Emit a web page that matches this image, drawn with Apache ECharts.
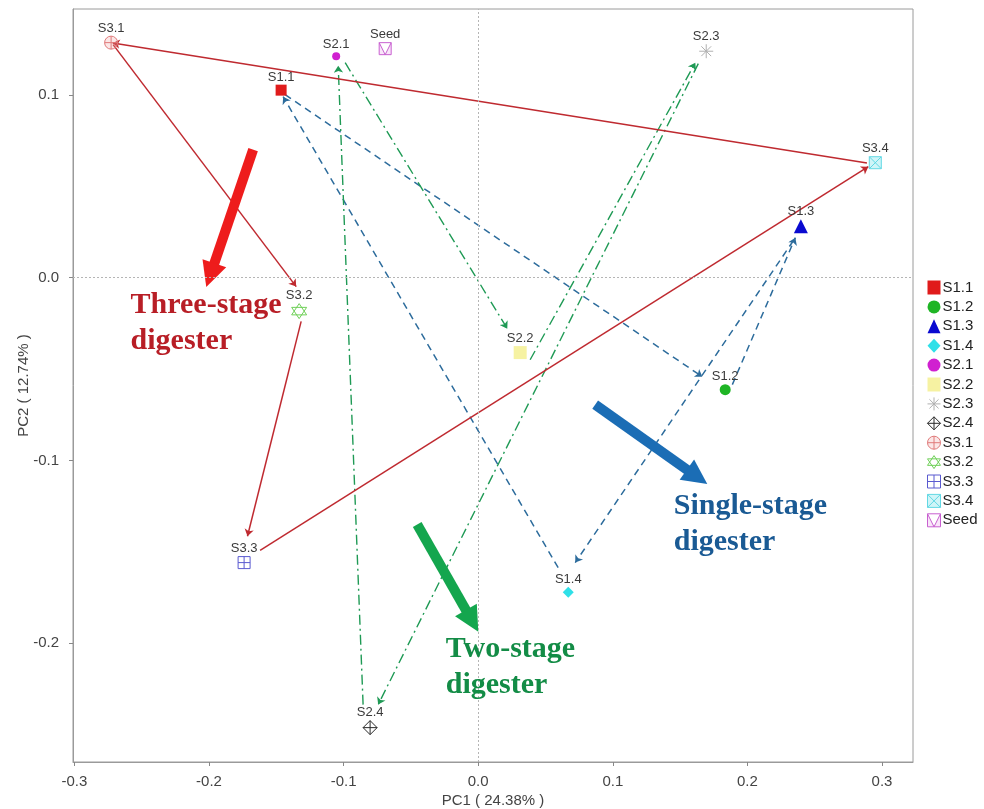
<!DOCTYPE html>
<html><head><meta charset="utf-8">
<script src="https://cdn.jsdelivr.net/npm/echarts@6/dist/echarts.min.js"></script>
<style>html,body{margin:0;padding:0;background:#fff}#c{width:984px;height:809px}</style>
</head><body><div id="c"></div>
<script>
// ---- data ----
const sampleNames = ['S1.1','S1.2','S1.3','S1.4','S2.1','S2.2','S2.3','S2.4','S3.1','S3.2','S3.3','S3.4','Seed'];
const pc1 = [-0.1464, 0.1835, 0.2397, 0.0669, -0.1055, 0.0312, 0.1694, -0.0803, -0.2727, -0.1330, -0.1739, 0.2950, -0.0691];
const pc2 = [0.1026, -0.0613, 0.0282, -0.1721, 0.1212, -0.0410, 0.1239, -0.2462, 0.1286, -0.0183, -0.1559, 0.0629, 0.1253];
const xTicks = [-0.3, -0.2, -0.1, 0.0, 0.1, 0.2, 0.3];
const yTicks = [-0.2, -0.1, 0.0, 0.1];
const xTitle = 'PC1 ( 24.38% )';
const yTitle = 'PC2 ( 12.74% )';
// trajectory arrows [x1, y1, x2, y2]
const singleStageArrows = [
  [-0.1434, 0.1001, 0.1665, -0.0542],
  [0.1888, -0.0585, 0.2356, 0.0219],
  [0.2341, 0.0202, 0.0721, -0.1559],
  [0.0594, -0.1587, -0.1449, 0.0990]
];
const twoStageArrows = [
  [-0.0988, 0.1176, 0.0216, -0.0279],
  [0.0386, -0.0449, 0.1613, 0.1176],
  [0.1635, 0.1171, -0.0743, -0.2336],
  [-0.0855, -0.2336, -0.1040, 0.1160]
];
const threeStageArrows = [
  [-0.2712, 0.1275, -0.1352, -0.0049],
  [-0.1315, -0.0239, -0.1714, -0.1415],
  [-0.1620, -0.1492, 0.2898, 0.0607],
  [0.2888, 0.0628, -0.2715, 0.1284]
];
// annotation arrows [x1, y1, x2, y2]
const annoArrows = [
  [-0.1672, 0.0700, -0.1990, 0.0014],
  [0.0869, -0.0695, 0.1626, -0.1090],
  [-0.0453, -0.1351, -0.0045, -0.1878]
];
const annoTexts = ['Three-stage\ndigester', 'Single-stage\ndigester', 'Two-stage\ndigester'];
const annoX = [-0.2586, 0.1449, -0.0245];
const annoY = [-0.0055, -0.1152, -0.1934];

// ---- styles ----
const P = {
  sqPlus: 'path://M0 0L10 0L10 10L0 10Z M5 0L5 10 M0 5L10 5',
  sqX: 'path://M0 0L10 0L10 10L0 10Z M0 0L10 10 M10 0L0 10',
  sqV: 'path://M0 0L10 0L10 10L0 10Z M0 0L5 10L10 0',
  circPlus: 'path://M0 5A5 5 0 1 1 10 5A5 5 0 1 1 0 5Z M5 0L5 10 M0 5L10 5',
  diaPlus: 'path://M5 0L10 5L5 10L0 5Z M5 0L5 10 M0 5L10 5',
  star: 'path://M5 0L10 7.5L0 7.5Z M5 10L0 2.5L10 2.5Z',
  aster: 'path://M5 0L5 10 M0 5L10 5 M1.5 1.5L8.5 8.5 M8.5 1.5L1.5 8.5'
};
const markerStyles = [
  {symbol: 'rect', size: 11, fill: '#e01b1b', stroke: '#e01b1b', bw: 0},
  {symbol: 'circle', size: 11, fill: '#1fb525', stroke: '#1fb525', bw: 0},
  {symbol: 'triangle', size: 14, fill: '#0a0ad0', stroke: '#0a0ad0', bw: 0},
  {symbol: 'diamond', size: 11, fill: '#2fe0e8', stroke: '#2fe0e8', bw: 0},
  {symbol: 'circle', size: 8, fill: '#d020d0', stroke: '#d020d0', bw: 0},
  {symbol: 'rect', size: 13, fill: '#f6f2a2', stroke: '#f6f2a2', bw: 0},
  {symbol: P.aster, size: 14, fill: 'rgba(0,0,0,0)', stroke: '#b0b0b0', bw: 1},
  {symbol: P.diaPlus, size: 14, fill: 'rgba(0,0,0,0)', stroke: '#2a2a2a', bw: 1},
  {symbol: P.circPlus, size: 13, fill: 'rgba(240,160,160,0.25)', stroke: '#e07a7a', bw: 1},
  {symbol: P.star, size: 15, fill: 'rgba(0,0,0,0)', stroke: '#6fd058', bw: 1},
  {symbol: P.sqPlus, size: 12, fill: 'rgba(0,0,0,0)', stroke: '#5a5ad0', bw: 1},
  {symbol: P.sqX, size: 12, fill: 'rgba(120,225,235,0.35)', stroke: '#62d8e4', bw: 1},
  {symbol: P.sqV, size: 12, fill: 'rgba(235,170,235,0.3)', stroke: '#c860d0', bw: 1}
];
const sansFont = 'Liberation Sans, Arial, sans-serif';

const chart = echarts.init(document.getElementById('c'), null, {renderer: 'canvas'});

const series = [];
// zero reference lines
series.push({
  type: 'scatter', name: '_zero', data: [], silent: true, z: 1,
  markLine: {
    silent: true, symbol: 'none', label: {show: false},
    lineStyle: {type: [2, 2], color: '#b5b5b5', width: 1},
    emphasis: {disabled: true},
    data: [{xAxis: 0}, {yAxis: 0}]
  }
});
function arrowSeries(arr, color, type, width) {
  return {
    type: 'lines', coordinateSystem: 'cartesian2d', silent: true, z: 2,
    symbol: ['none', 'arrow'], symbolSize: [0, 7],
    lineStyle: {color: color, type: type, width: width, opacity: 1},
    data: arr.map(a => ({coords: [[a[0], a[1]], [a[2], a[3]]]}))
  };
}
series.push(arrowSeries(singleStageArrows, '#2d6c9c', [7, 5], 1.5));
series.push(arrowSeries(twoStageArrows, '#1f9a55', [10, 4, 2, 4], 1.4));
series.push(arrowSeries(threeStageArrows, '#bf2a30', 'solid', 1.5));

sampleNames.forEach((n, i) => {
  const s = markerStyles[i];
  series.push({
    type: 'scatter', name: n, z: 3,
    symbol: s.symbol, symbolSize: s.size,
    itemStyle: {color: s.fill, borderColor: s.stroke, borderWidth: s.bw, opacity: 1},
    label: {show: true, position: 'top', distance: 1, formatter: n, fontSize: 13,
            fontFamily: sansFont, color: '#3a3a3a'},
    data: [[pc1[i], pc2[i]]]
  });
});

// annotation arrows
const annoColors = ['#ee1c1c', '#1b6db5', '#14a64e'];
annoArrows.forEach((a, i) => {
  series.push({
    type: 'lines', coordinateSystem: 'cartesian2d', silent: true, z: 4,
    symbol: ['none', 'triangle'], symbolSize: [0, 25],
    lineStyle: {color: annoColors[i], width: 10, opacity: 1, cap: 'butt'},
    data: [{coords: [[a[0], a[1]], [a[2], a[3]]]}]
  });
});
const textColors = ['#b81e26', '#1a5a94', '#138c46'];
annoTexts.forEach((t, i) => {
  series.push({
    type: 'scatter', silent: true, z: 5, symbolSize: 1,
    itemStyle: {color: textColors[i], opacity: 0},
    label: {show: true, position: 'right', distance: 0, align: 'left', verticalAlign: 'top',
            formatter: t, fontSize: 30, lineHeight: 36, fontWeight: 'bold',
            fontFamily: 'Liberation Serif, Times New Roman, serif', color: textColors[i],
            textBorderWidth: 0, textBorderColor: 'transparent', opacity: 1},
    data: [[annoX[i], annoY[i]]]
  });
});

chart.setOption({
  animation: false,
  backgroundColor: '#ffffff',
  grid: {left: 73, right: 71, top: 9, bottom: 47, show: true, borderColor: '#9a9a9a', borderWidth: 1,
         containLabel: false, outerBoundsMode: 'none'},
  xAxis: {
    type: 'value', min: -0.301, max: 0.323,
    name: xTitle, nameLocation: 'middle', nameGap: 31, nameMoveOverlap: false,
    nameTextStyle: {fontSize: 15, color: '#444', fontFamily: sansFont},
    axisLine: {show: true, onZero: false, lineStyle: {color: '#9a9a9a', width: 1}},
    axisTick: {show: true, inside: false, length: 4, customValues: xTicks, lineStyle: {color: '#888'}},
    axisLabel: {customValues: xTicks, margin: 12, fontSize: 15, color: '#444',
                fontFamily: sansFont, formatter: v => v.toFixed(1)},
    splitLine: {show: false}
  },
  yAxis: {
    type: 'value', min: -0.265, max: 0.147,
    name: yTitle, nameLocation: 'middle', nameGap: 42, nameRotate: 90, nameMoveOverlap: false,
    nameTextStyle: {fontSize: 15, color: '#444', fontFamily: sansFont},
    axisLine: {show: true, onZero: false, lineStyle: {color: '#9a9a9a', width: 1}},
    axisTick: {show: true, inside: false, length: 4, customValues: yTicks, lineStyle: {color: '#888'}},
    axisLabel: {customValues: yTicks, margin: 14, fontSize: 15, color: '#444',
                fontFamily: sansFont, formatter: v => v.toFixed(1)},
    splitLine: {show: false}
  },
  legend: {
    orient: 'vertical', left: 922, top: 275, itemGap: 4.4, itemWidth: 13, itemHeight: 14,
    textStyle: {fontSize: 15, lineHeight: 14, color: '#222', fontFamily: sansFont, padding: [0, 0, 0, -3]},
    selectedMode: false,
    data: sampleNames.map((n, i) => ({
      name: n, icon: markerStyles[i].symbol,
      itemStyle: {color: markerStyles[i].fill, borderColor: markerStyles[i].stroke, borderWidth: markerStyles[i].bw}
    }))
  },
  series: series
});
</script></body></html>
